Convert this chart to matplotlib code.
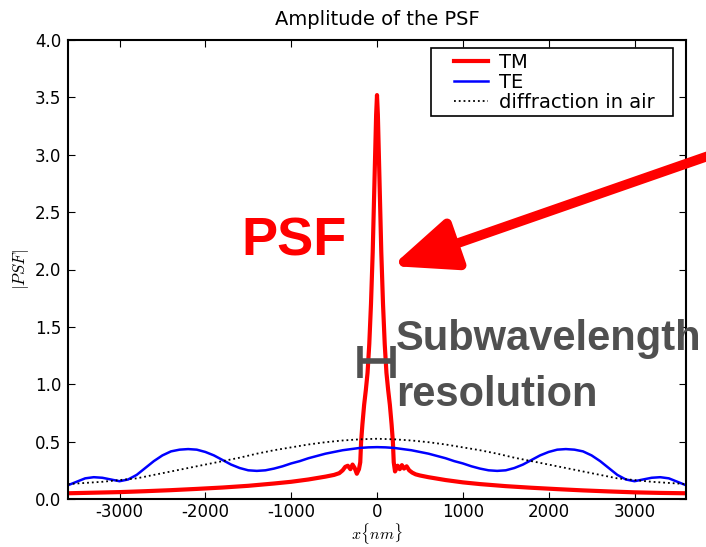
import matplotlib
matplotlib.use('Agg')
import matplotlib.pyplot as plt
from matplotlib.legend_handler import HandlerLine2D

plt.rcParams['mathtext.fontset'] = 'cm'

# TM: strongly peaked PSF
tm_x = [-3600, -3300, -3000, -2700, -2400, -2100, -1800, -1500, -1200, -1000, -800, -600,
        -500, -440, -400, -370, -340, -310, -285, -260, -235, -210, -195, -185, -170, -150,
        -130, -110, -90, -70, -50, -35, -20, -10, 0,
        10, 20, 35, 50, 70, 90, 110, 130, 150, 170, 185, 195, 210, 240, 265, 290, 315, 345,
        375, 410, 450, 500, 600, 800, 1000, 1200, 1500, 1800, 2100, 2400, 2700, 3000, 3300, 3600]
tm_y = [0.050, 0.055, 0.060, 0.068, 0.077, 0.088, 0.100, 0.115, 0.135, 0.150, 0.170, 0.195,
        0.210, 0.225, 0.250, 0.280, 0.290, 0.260, 0.300, 0.270, 0.220, 0.260, 0.320, 0.500, 0.650, 0.820,
        0.950, 1.100, 1.350, 1.700, 2.150, 2.600, 3.050, 3.350, 3.520,
        3.350, 3.050, 2.600, 2.150, 1.700, 1.350, 1.100, 0.950, 0.820, 0.650, 0.500, 0.320, 0.240, 0.290, 0.260, 0.295, 0.265, 0.285,
        0.250, 0.230, 0.215, 0.205, 0.190, 0.165, 0.145, 0.130, 0.112, 0.098, 0.086, 0.075, 0.066, 0.058, 0.053, 0.050]

# TE: broad profile with side lobes
te_x = [-3600, -3500, -3400, -3300, -3200, -3100, -3000, -2900, -2800, -2700, -2600, -2500,
        -2400, -2300, -2200, -2100, -2000, -1900, -1800, -1700, -1600, -1500, -1400, -1300,
        -1200, -1100, -1000, -900, -800, -700, -600, -500, -400, -300, -200, -100, 0,
        100, 200, 300, 400, 500, 600, 700, 800, 900, 1000, 1100, 1200, 1300, 1400, 1500,
        1600, 1700, 1800, 1900, 2000, 2100, 2200, 2300, 2400, 2500, 2600, 2700, 2800, 2900,
        3000, 3100, 3200, 3300, 3400, 3500, 3600]
te_y = [0.120, 0.150, 0.180, 0.190, 0.185, 0.170, 0.155, 0.170, 0.210, 0.270, 0.330, 0.380,
        0.415, 0.430, 0.435, 0.430, 0.410, 0.380, 0.340, 0.300, 0.270, 0.250, 0.245, 0.250,
        0.265, 0.285, 0.310, 0.330, 0.355, 0.375, 0.395, 0.410, 0.425, 0.435, 0.445, 0.450, 0.452,
        0.450, 0.445, 0.435, 0.425, 0.410, 0.395, 0.375, 0.355, 0.330, 0.310, 0.285, 0.265, 0.250, 0.245, 0.250,
        0.270, 0.300, 0.340, 0.380, 0.410, 0.430, 0.435, 0.430, 0.415, 0.380, 0.330, 0.270, 0.210, 0.170,
        0.155, 0.170, 0.185, 0.190, 0.180, 0.150, 0.120]

# diffraction-limited spot in air
air_x = [-3600, -3400, -3200, -3000, -2800, -2600, -2400, -2200, -2000, -1800, -1600, -1400,
         -1200, -1000, -800, -600, -400, -200, 0, 200, 400, 600, 800, 1000, 1200, 1400, 1600,
         1800, 2000, 2200, 2400, 2600, 2800, 3000, 3200, 3400, 3600]
air_y = [0.130, 0.140, 0.150, 0.165, 0.180, 0.210, 0.240, 0.270, 0.300, 0.330, 0.360, 0.395,
         0.425, 0.450, 0.475, 0.495, 0.510, 0.520, 0.525, 0.520, 0.510, 0.495, 0.475, 0.450, 0.425,
         0.395, 0.360, 0.330, 0.300, 0.270, 0.240, 0.210, 0.180, 0.165, 0.150, 0.140, 0.130]

xticks = [-3000, -2000, -1000, 0, 1000, 2000, 3000]
yticks = [0.0, 0.5, 1.0, 1.5, 2.0, 2.5, 3.0, 3.5, 4.0]


class ShiftedLine(HandlerLine2D):
    # old-style legend: empty space left of the sample line
    def create_artists(self, legend, orig_handle, xdescent, ydescent, width, height, fontsize, trans):
        shift = 0.95 * fontsize
        return super().create_artists(legend, orig_handle, xdescent - shift, ydescent,
                                      width - shift, height, fontsize, trans)


fig = plt.figure(figsize=(7.06, 5.47), dpi=100)
ax = fig.add_axes([68 / 706, 48 / 547, 618 / 706, 459 / 547])

ax.plot(tm_x, tm_y, color='red', lw=3, label='TM')
ax.plot(te_x, te_y, color='blue', lw=1.8, label='TE')
ax.plot(air_x, air_y, color='black', lw=1.3, ls=':', label='diffraction in air')

ax.set_xlim(-3600, 3600)
ax.set_ylim(0, 4.0)
ax.set_xticks(xticks)
ax.set_yticks(yticks)
ax.set_yticklabels(['%.1f' % v for v in yticks])
ax.set_xticklabels(['%d' % v for v in xticks])
ax.tick_params(direction='in', top=True, right=True, length=5, labelsize=12)
ax.tick_params(axis='x', pad=3)
ax.tick_params(axis='y', pad=5)
for s in ax.spines.values():
    s.set_linewidth(1.5)

ax.set_title('Amplitude of the PSF', fontsize=14, pad=11)
ax.set_xlabel(r'$x\{nm\}$', fontsize=11.5, labelpad=0)
ax.set_ylabel(r'$|PSF|$', fontsize=12, labelpad=3)

leg = ax.legend(loc='upper right', bbox_to_anchor=(0.587, 0.0, 0.392, 0.983), mode='expand',
                fontsize=14, fancybox=False, framealpha=1,
                handlelength=2.7, handletextpad=0.55, borderpad=0.25,
                labelspacing=0.05, borderaxespad=0.0,
                handler_map={plt.Line2D: ShiftedLine()})
leg.get_frame().set_edgecolor('black')
leg.get_frame().set_linewidth(1.2)

# annotations
ax.text(-1585, 2.12, 'PSF', color='red', fontsize=39, fontweight='bold',
        family='Liberation Sans', ha='left', va='baseline')
ax.annotate('', xy=(175, 2.03), xytext=(3900, 3.0), annotation_clip=False,
            arrowprops=dict(arrowstyle='-|>,head_length=1.2,head_width=0.5',
                            color='red', lw=7, mutation_scale=32, shrinkA=0, shrinkB=0))
grey = '#505050'
ax.text(221, 1.30, 'Subwavelength', color=grey, fontsize=30, fontweight='bold',
        family='Liberation Sans', ha='left', va='baseline', clip_on=False)
ax.text(221, 0.81, 'resolution', color=grey, fontsize=30, fontweight='bold',
        family='Liberation Sans', ha='left', va='baseline')
ax.plot([-198, -198], [1.056, 1.333], color=grey, lw=4, solid_capstyle='butt')
ax.plot([186, 186], [1.056, 1.333], color=grey, lw=4, solid_capstyle='butt')
ax.plot([-198, 186], [1.203, 1.203], color=grey, lw=4, solid_capstyle='butt')

fig.savefig('out.png', dpi=100)
